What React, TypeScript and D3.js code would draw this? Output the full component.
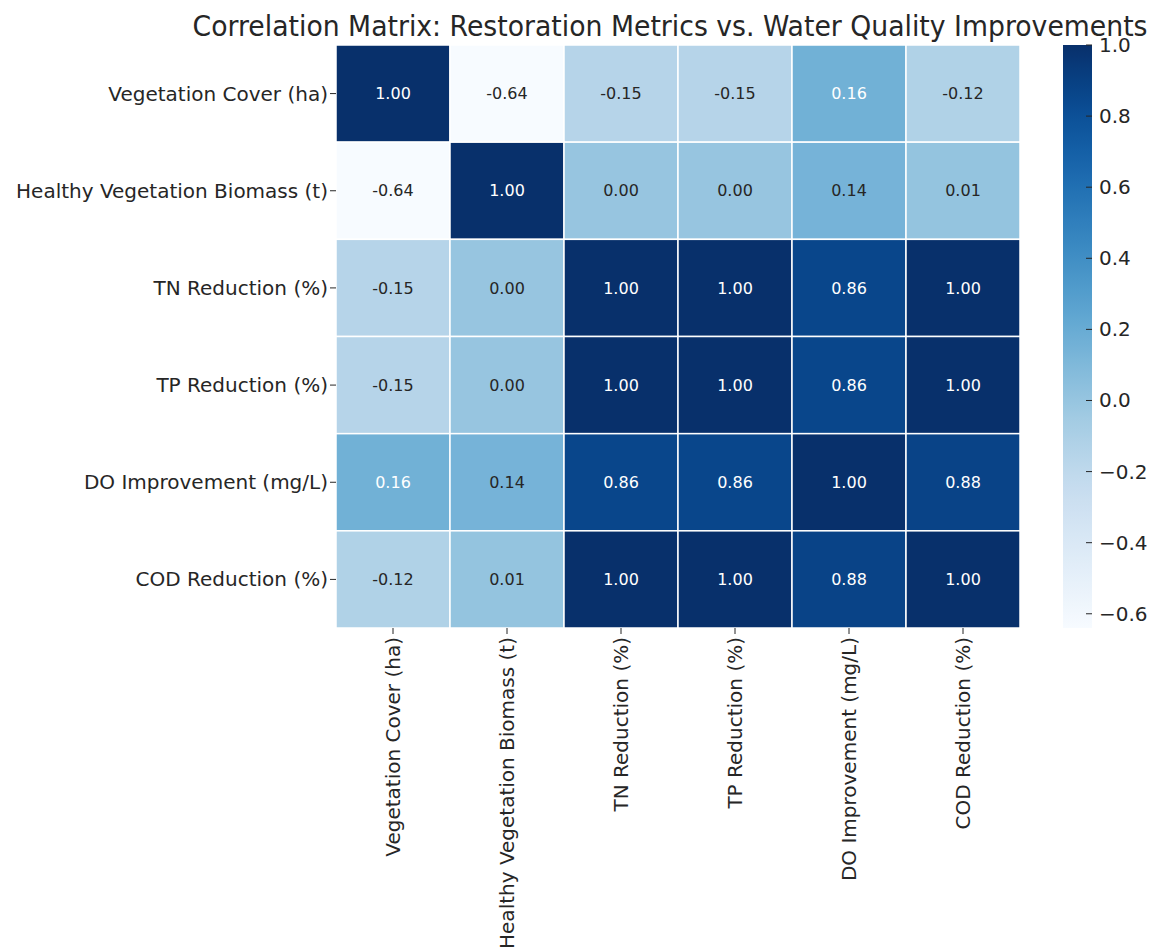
import React from "react";
import * as d3 from "d3";

const labels = [
  "Vegetation Cover (ha)",
  "Healthy Vegetation Biomass (t)",
  "TN Reduction (%)",
  "TP Reduction (%)",
  "DO Improvement (mg/L)",
  "COD Reduction (%)",
];
const row0 = [1.0, -0.64, -0.15, -0.15, 0.16, -0.12];
const row1 = [-0.64, 1.0, 0.0, 0.0, 0.14, 0.01];
const row2 = [-0.15, 0.0, 1.0, 1.0, 0.86, 1.0];
const row3 = [-0.15, 0.0, 1.0, 1.0, 0.86, 1.0];
const row4 = [0.16, 0.14, 0.86, 0.86, 1.0, 0.88];
const row5 = [-0.12, 0.01, 1.0, 1.0, 0.88, 1.0];
const matrix = [row0, row1, row2, row3, row4, row5];
const cbTicks = [1.0, 0.8, 0.6, 0.4, 0.2, 0.0, -0.2, -0.4, -0.6];
const vmin = -0.64;
const vmax = 1.0;
const title = "Correlation Matrix: Restoration Metrics vs. Water Quality Improvements";

const W = 1169, H = 950;
const left = 336, right = 1020, top = 45, bottom = 628;
const cbX = 1063, cbW = 29;
const FONT = "DejaVu Sans, sans-serif";

function lum(c: string) {
  const rgb = d3.rgb(c);
  const f = (v: number) => {
    v /= 255;
    return v <= 0.03928 ? v / 12.92 : Math.pow((v + 0.055) / 1.055, 2.4);
  };
  return 0.2126 * f(rgb.r) + 0.7152 * f(rgb.g) + 0.0722 * f(rgb.b);
}

export default function App() {
  const x = d3.scaleBand<number>().domain(d3.range(6)).range([left, right]).padding(0);
  const y = d3.scaleBand<number>().domain(d3.range(6)).range([top, bottom]).padding(0);
  const color = d3.scaleSequential(d3.interpolateBlues).domain([vmin, vmax]);
  const cbY = d3.scaleLinear().domain([vmin, vmax]).range([bottom, top]);
  const stops = d3.range(0, 1.0001, 0.02);
  const fmt = (v: number) => (v < 0 ? "\u2212" : "") + Math.abs(v).toFixed(1);

  return (
    <svg width={W} height={H} style={{ position: "absolute", left: 0, top: 0, background: "#fff" }}>
      <defs>
        <linearGradient id="cb" x1="0" y1="1" x2="0" y2="0">
          {stops.map((t) => (
            <stop key={t} offset={t} stopColor={color(vmin + t * (vmax - vmin))} />
          ))}
        </linearGradient>
      </defs>
      <text x={670} y={36} textAnchor="middle" fontFamily={FONT} fontSize={29} fill="#262626"
        textLength={955} lengthAdjust="spacingAndGlyphs">{title}</text>
      {matrix.map((row, i) =>
        row.map((v, j) => {
          const c = color(v);
          const dark = lum(c) <= 0.408;
          return (
            <g key={`${i}-${j}`}>
              <rect x={x(j)} y={y(i)} width={x.bandwidth()} height={y.bandwidth()} fill={c}
                stroke="#fff" strokeWidth={1.5} />
              <text x={(x(j) as number) + x.bandwidth() / 2} y={(y(i) as number) + y.bandwidth() / 2}
                dy="0.35em" textAnchor="middle" fontFamily={FONT} fontSize={16}
                fill={dark ? "#fff" : "#262626"}>{v.toFixed(2)}</text>
            </g>
          );
        })
      )}
      {labels.map((l, i) => {
        const cy = (y(i) as number) + y.bandwidth() / 2;
        return (
          <g key={"y" + i}>
            <line x1={left - 6} x2={left} y1={cy} y2={cy} stroke="#262626" strokeWidth={1} />
            <text x={left - 8} y={cy} dy="0.35em" textAnchor="end" fontFamily={FONT} fontSize={20} fill="#262626">{l}</text>
          </g>
        );
      })}
      {labels.map((l, j) => {
        const cx = (x(j) as number) + x.bandwidth() / 2;
        return (
          <g key={"x" + j}>
            <line x1={cx} x2={cx} y1={bottom} y2={bottom + 6} stroke="#262626" strokeWidth={1} />
            <text transform={`translate(${cx},${bottom + 9}) rotate(-90)`} dy="0.35em" textAnchor="end"
              fontFamily={FONT} fontSize={20} fill="#262626">{l}</text>
          </g>
        );
      })}
      <rect x={cbX} y={top} width={cbW} height={bottom - top} fill="url(#cb)" />
      {cbTicks.map((t) => (
        <g key={"cb" + t}>
          <line x1={cbX + cbW - 6} x2={cbX + cbW} y1={cbY(t)} y2={cbY(t)} stroke="#262626" strokeWidth={1} />
          <text x={cbX + cbW + 7} y={cbY(t)} dy="0.35em" fontFamily={FONT} fontSize={20} fill="#262626">{fmt(t)}</text>
        </g>
      ))}
    </svg>
  );
}
